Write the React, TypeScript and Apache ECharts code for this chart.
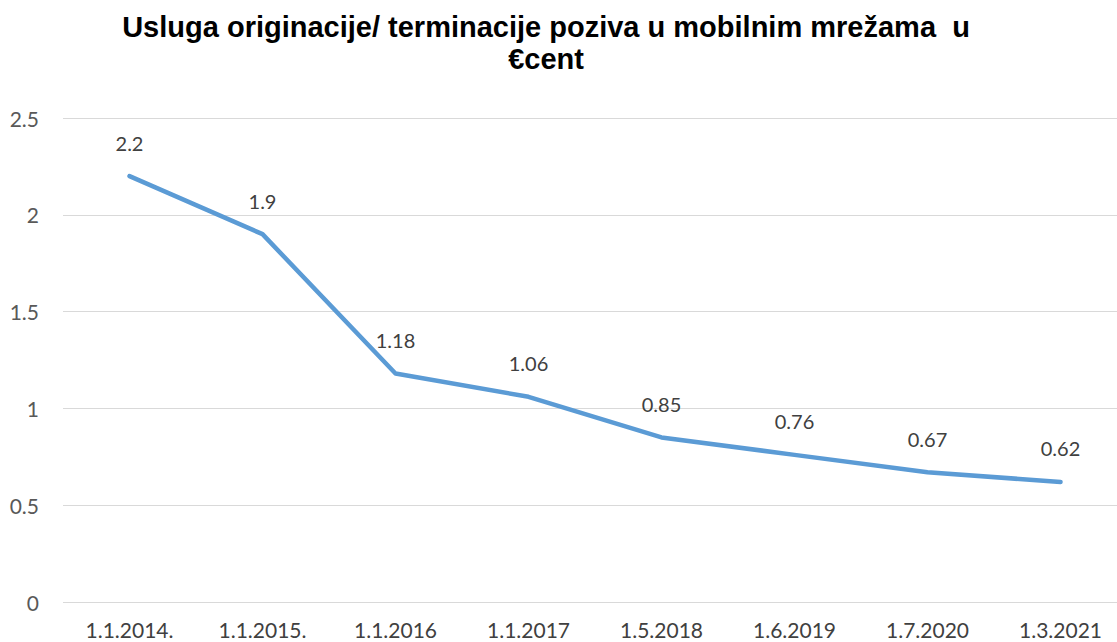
import React, { useEffect, useRef } from "react";
import * as echarts from "echarts";

const categories = ["1.1.2014.", "1.1.2015.", "1.1.2016", "1.1.2017", "1.5.2018", "1.6.2019", "1.7.2020", "1.3.2021"];
const values = [2.2, 1.9, 1.18, 1.06, 0.85, 0.76, 0.67, 0.62];
const titleText = "Usluga originacije/ terminacije poziva u mobilnim mrežama  u\n€cent";

export default function App() {
  const ref = useRef<HTMLDivElement>(null);
  useEffect(() => {
    if (!ref.current) return;
    const chart = echarts.init(ref.current, null, { renderer: "svg" });
    chart.setOption({
      animation: false,
      backgroundColor: "#ffffff",
      title: {
        text: titleText,
        left: 541,
        top: 6,
        textAlign: "center",
        textStyle: {
          fontFamily: "Liberation Sans, Arial, sans-serif",
          fontWeight: "bold",
          fontSize: 29,
          lineHeight: 32,
          color: "#000000",
        },
      },
      grid: {
        left: 63,
        width: 1064,
        top: 118,
        bottom: 40,
        containLabel: false,
        outerBoundsMode: "none",
      },
      xAxis: {
        type: "category",
        data: categories,
        boundaryGap: true,
        axisLine: { show: false },
        axisTick: { show: false },
        axisLabel: {
          margin: 17,
          fontFamily: "Lato, Open Sans, sans-serif",
          fontSize: 21,
          color: "#404040",
          interval: 0,
        },
      },
      yAxis: {
        type: "value",
        min: 0,
        max: 2.5,
        interval: 0.5,
        axisLine: { show: false },
        axisTick: { show: false },
        splitLine: { lineStyle: { color: "#d9d9d9", width: 1 } },
        axisLabel: {
          margin: 24,
          fontFamily: "Lato, Open Sans, sans-serif",
          fontSize: 21,
          color: "#595959",
        },
      },
      series: [
        {
          type: "line",
          data: values,
          symbol: "circle",
          symbolSize: 1,
          showSymbol: true,
          itemStyle: { color: "rgba(0,0,0,0)" },
          lineStyle: { color: "#5B9BD5", width: 4.5, cap: "round", join: "round" },
          label: {
            show: true,
            position: "top",
            distance: 23,
            fontFamily: "Lato, Open Sans, sans-serif",
            fontSize: 20,
            color: "#404040",
          },
        },
      ],
    });
    return () => chart.dispose();
  }, []);
  return (
    <div
      ref={ref}
      style={{ position: "absolute", left: 0, top: 0, width: 1117, height: 642, overflow: "hidden" }}
    />
  );
}
